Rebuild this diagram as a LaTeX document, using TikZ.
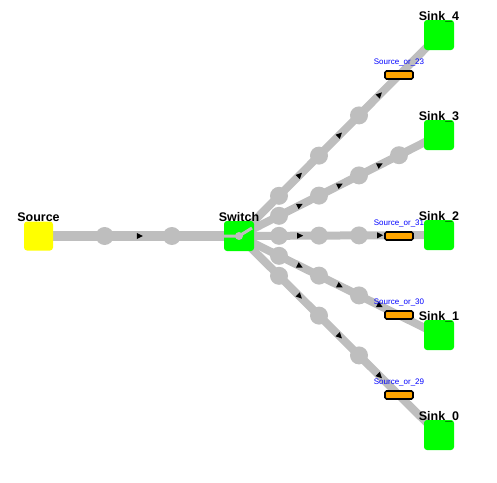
\documentclass[tikz,border=0pt]{standalone}
\usepackage{fontspec}
\setmainfont{Liberation Sans}
\usetikzlibrary{shapes.geometric}
\definecolor{lgray}{RGB}{190,190,190}
\definecolor{lgreen}{RGB}{0,255,0}
\definecolor{lyellow}{RGB}{255,255,0}
\definecolor{lorange}{RGB}{255,165,0}
\definecolor{lblue}{RGB}{0,0,255}
\begin{document}
\begin{tikzpicture}[x=1pt,y=-1pt,
  sq/.style={rounded corners=3pt, minimum size=30pt, inner sep=0pt, draw=none},
  lbl/.style={font=\fontsize{12.5}{13}\selectfont\bfseries, text=black, inner sep=0pt},
  dot/.style={circle, fill=lgray, minimum size=18pt, inner sep=0pt},
  tri/.style={isosceles triangle, isosceles triangle stretches, fill=black, minimum width=6pt, minimum height=6pt, inner sep=0pt, sloped},
  buf/.style={fill=lorange, draw=black, line width=1.6pt, rounded corners=1.5pt, minimum width=28pt, minimum height=8pt, inner sep=0pt},
  blbl/.style={text=lblue, font=\fontsize{8}{8}\selectfont, inner sep=0pt},
  wire/.style={draw=lgray, line width=8pt},
  mainwire/.style={draw=lgray, line width=10pt}]
\useasboundingbox (0,0) rectangle (497,482);
\coordinate (src) at (38.5,236);
\coordinate (sw) at (239,236);
\coordinate (s4) at (439,35);
\coordinate (s3) at (439,135);
\coordinate (s2) at (439,235);
\coordinate (s1) at (439,335);
\coordinate (s0) at (439,435);
% connectors
\draw[mainwire] (src) -- (sw);
\foreach \k in {0,...,4} { \draw[wire] (sw) -- (s\k); }
% dots on main wire
\path (src) -- (sw) node[dot,pos=0.33]{} node[dot,pos=0.665]{} node[tri,pos=0.5]{};
% branch dots
\foreach \k in {0,1,2,4} {
  \path (sw) -- (s\k) node[dot,pos=0.2]{} node[dot,pos=0.4]{} node[dot,pos=0.6]{};
}
\path (sw) -- (s3) node[dot,pos=0.2]{} node[dot,pos=0.4]{} node[dot,pos=0.6]{} node[dot,pos=0.8]{};
% arrows
\foreach \k in {0,1,3,4} {
  \path (sw) -- (s\k) node[tri,pos=0.3]{} node[tri,pos=0.5]{} node[tri,pos=0.7]{};
}
\path (sw) -- (s2) node[tri,pos=0.3]{} node[tri,pos=0.7]{};
% buffers
\node[buf] (b23) at (399,75) {};
\node[buf] (b31) at (399,236) {};
\node[buf] (b30) at (399,315) {};
\node[buf] (b29) at (399,395) {};
\node[blbl] at (399,62) {Source\_or\_23};
\node[blbl] at (399,223) {Source\_or\_31};
\node[blbl] at (399,302) {Source\_or\_30};
\node[blbl] at (399,382) {Source\_or\_29};
% boxes
\node[sq, fill=lyellow, minimum size=29pt] (srcbox) at (src) {};
\node[sq, fill=lgreen] (swbox) at (sw) {};
\foreach \k in {0,...,4} { \node[sq, fill=lgreen] (s\k box) at (s\k) {}; }
% switch internals
\draw[lgray, line width=3pt] (swbox.west) -- (sw) -- ++(13,-8);
\fill[lgray] (sw) circle (4pt);
% labels
\node[lbl] at (38.5,217) {Source};
\node[lbl] at (239,217) {Switch};
\node[lbl] at (439,17) {Sink\_4};
\node[lbl] at (439,117) {Sink\_3};
\node[lbl] at (439,217) {Sink\_2};
\node[lbl] at (439,317) {Sink\_1};
\node[lbl] at (439,417) {Sink\_0};
\end{tikzpicture}
\end{document}
